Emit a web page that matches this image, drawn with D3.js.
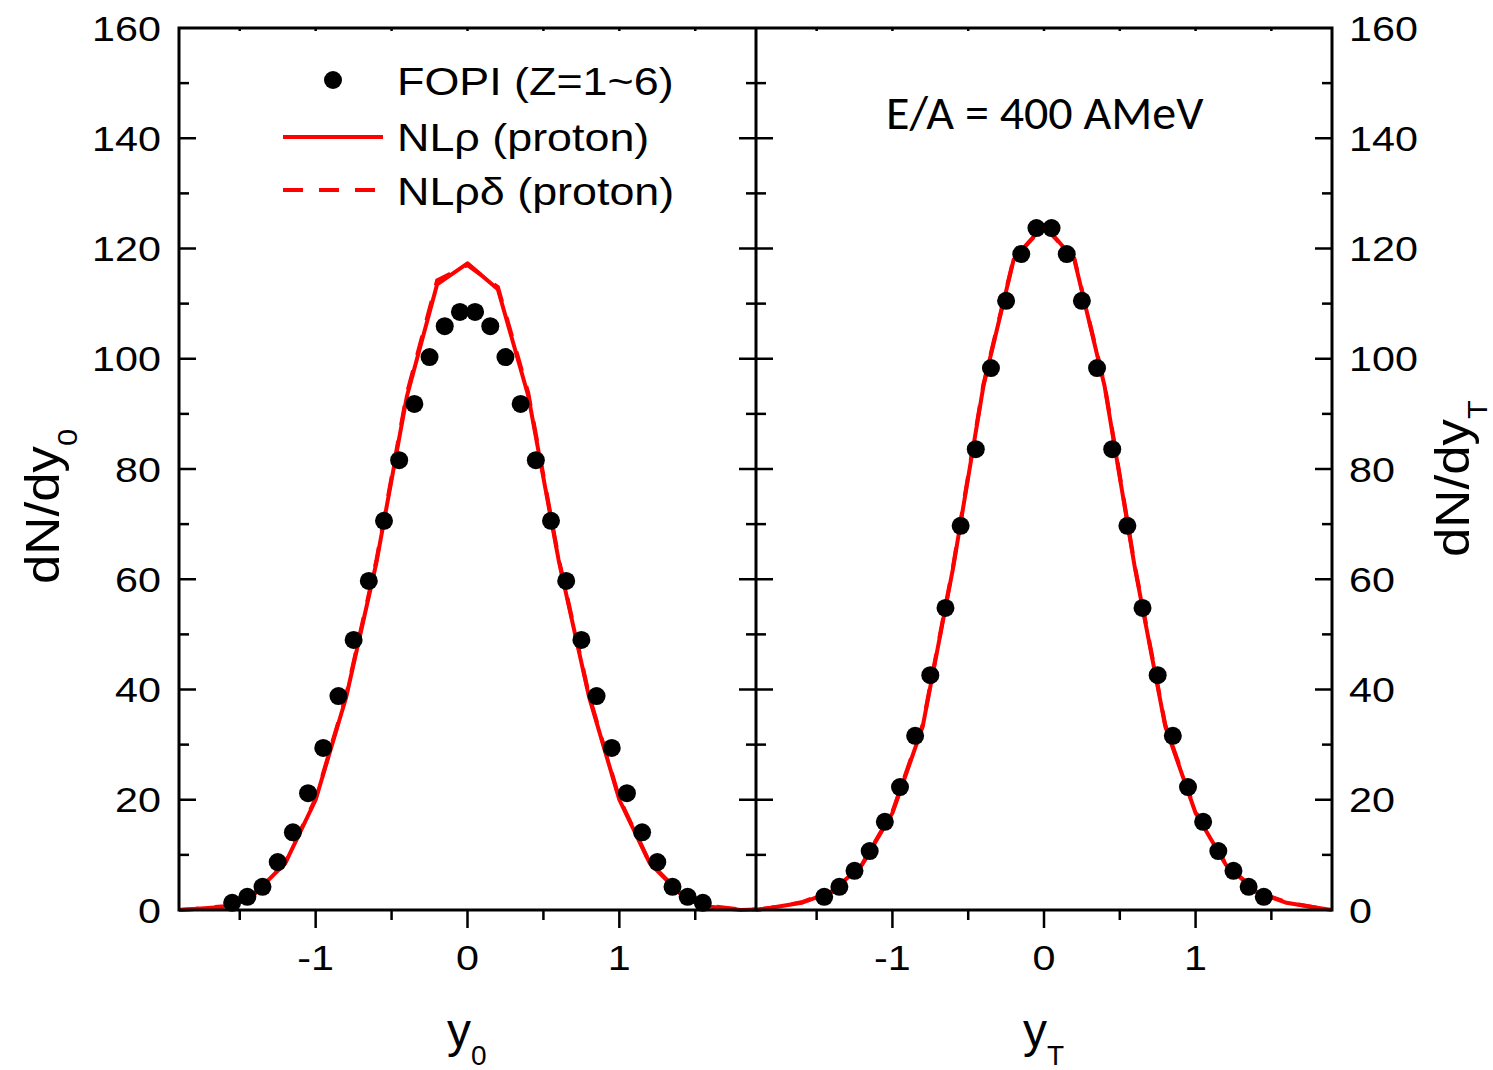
<!DOCTYPE html>
<html>
<head>
<meta charset="utf-8">
<script src="https://cdn.jsdelivr.net/npm/d3@7"></script>
<style>
  body { margin: 0; background: #fff; }
  svg { display: block; }
  .ar { font-family: "Liberation Sans", Arial, sans-serif; }
</style>
</head>
<body>
<div id="chart"></div>
<script>
// FOPI data points (symmetric around 0)
const dataX0 = [-1.55,-1.45,-1.35,-1.25,-1.15,-1.05,-0.95,-0.85,-0.75,-0.65,-0.55,-0.45,-0.35,-0.25,-0.15,-0.05,
                0.05,0.15,0.25,0.35,0.45,0.55,0.65,0.75,0.85,0.95,1.05,1.15,1.25,1.35,1.45,1.55];
const dataY0 = [1.3,2.4,4.2,8.7,14.1,21.2,29.4,38.8,49.0,59.7,70.6,81.6,91.8,100.3,105.9,108.5,
                108.5,105.9,100.3,91.8,81.6,70.6,59.7,49.0,38.8,29.4,21.2,14.1,8.7,4.2,2.4,1.3];

const dataXT = [-1.45,-1.35,-1.25,-1.15,-1.05,-0.95,-0.85,-0.75,-0.65,-0.55,-0.45,-0.35,-0.25,-0.15,-0.05,
                0.05,0.15,0.25,0.35,0.45,0.55,0.65,0.75,0.85,0.95,1.05,1.15,1.25,1.35,1.45];
const dataYT = [2.4,4.2,7.1,10.7,16.0,22.3,31.6,42.6,54.8,69.7,83.6,98.3,110.5,119.0,123.7,
                123.7,119.0,110.5,98.3,83.6,69.7,54.8,42.6,31.6,22.3,16.0,10.7,7.1,4.2,2.4];

// model curves
const modelX = [-1.9,-1.8,-1.6,-1.4,-1.2,-1.0,-0.8,-0.6,-0.4,-0.2,0,0.2,0.4,0.6,0.8,1.0,1.2,1.4,1.6,1.8,1.9];
const nlRho0   = [0,0.2,0.6,3.0,8.5,20.0,38.5,63.0,93.1,113.5,117.3,112.6,93.3,63.5,38.7,20.0,8.5,3.0,0.6,0,0.1];
const nlRhoD0  = [0,0.2,0.7,3.1,8.6,20.2,38.8,63.4,93.6,114.2,117.0,113.0,93.8,63.8,39.0,20.2,8.6,3.1,0.7,0.1,0.1];
const nlRhoT   = [0,0.4,1.3,3.3,8.2,17.6,33.3,62.0,95.0,118.0,124.3,118.0,95.0,62.0,33.3,17.6,8.2,3.3,1.3,0.4,0];
const nlRhoDT  = [0,0.4,1.4,3.4,8.3,17.8,33.6,62.3,95.3,118.2,124.0,118.2,95.3,62.3,33.6,17.8,8.3,3.4,1.4,0.4,0];

const yTicks = [0,20,40,60,80,100,120,140,160];
const xTicks = [-1,0,1];

const W = 1493, H = 1070;
const plotTop = 28, plotBottom = 910;
const leftL = 179, mid = 756, rightR = 1332;
const stretch = 1.18;

const svg = d3.select("#chart").append("svg").attr("width", W).attr("height", H);

const y = d3.scaleLinear().domain([0,160]).range([plotBottom, plotTop]);
const xL = d3.scaleLinear().domain([-1.9,1.9]).range([leftL, mid]);
const xR = d3.scaleLinear().domain([-1.9,1.9]).range([mid, rightR]);

function txt(x, yy, s, size, anchor, sx) {
    return svg.append("text")
        .attr("class", "ar")
        .attr("transform", `translate(${x},${yy}) scale(${sx || stretch},1)`)
        .attr("font-size", size)
        .attr("text-anchor", anchor || "start")
        .text(s);
}

// curves and points
function panel(x, px, py, m1, m2) {
    const line = d3.line().x((d,i)=>x(modelX[i])).y(d=>y(d));
    svg.append("path").datum(m1).attr("d", line)
        .attr("fill","none").attr("stroke","#ff0000").attr("stroke-width",4).attr("stroke-linejoin","round");
    svg.append("path").datum(m2).attr("d", line)
        .attr("fill","none").attr("stroke","#ff0000").attr("stroke-width",4).attr("stroke-dasharray","20,16");
    svg.append("g").selectAll("circle").data(py).enter().append("circle")
        .attr("cx",(d,i)=>x(px[i])).attr("cy",d=>y(d)).attr("r",9).attr("fill","#000");
}
panel(xL, dataX0, dataY0, nlRho0, nlRhoD0);
panel(xR, dataXT, dataYT, nlRhoT, nlRhoDT);

// frame
const axisW = 3;
svg.append("rect").attr("x",leftL).attr("y",plotTop).attr("width",rightR-leftL).attr("height",plotBottom-plotTop)
    .attr("fill","none").attr("stroke","#000").attr("stroke-width",axisW);
svg.append("line").attr("x1",mid).attr("x2",mid).attr("y1",plotTop).attr("y2",plotBottom)
    .attr("stroke","#000").attr("stroke-width",axisW);

// y ticks
const yMinor = d3.range(0,161,10);
const tk = svg.append("g").attr("stroke","#000").attr("stroke-width",2.5);
yMinor.forEach(v=>{
    const major = v % 20 === 0;
    const L = major ? 17 : 10;
    if (v===0 || v===160) return;
    tk.append("line").attr("x1",leftL).attr("x2",leftL+L).attr("y1",y(v)).attr("y2",y(v));
    tk.append("line").attr("x1",rightR).attr("x2",rightR-L).attr("y1",y(v)).attr("y2",y(v));
    tk.append("line").attr("x1",mid-L).attr("x2",mid+L).attr("y1",y(v)).attr("y2",y(v));
});

// x ticks (outward at bottom, tiny at top)
[xL, xR].forEach(x=>{
    d3.range(-1.5,1.51,0.5).forEach(v=>{
        const major = Math.abs(v % 1) < 1e-6;
        const L = major ? 18 : 10;
        tk.append("line").attr("x1",x(v)).attr("x2",x(v)).attr("y1",plotBottom).attr("y2",plotBottom+L);
        tk.append("line").attr("x1",x(v)).attr("x2",x(v)).attr("y1",plotTop).attr("y2",plotTop+3);
    });
    xTicks.forEach(v=>{
        txt(x(v), 970, v === -1 ? "-1" : String(v), 35, "middle");
    });
});

// y tick labels
yTicks.forEach(v=>{
    txt(161, y(v)+12.5, String(v), 35, "end");
    txt(1349, y(v)+12.5, String(v), 35, "start");
});

// axis titles
function title(x, yy, main, sub, rot, anchor) {
    const t = svg.append("text").attr("class","ar")
        .attr("transform", `translate(${x},${yy}) rotate(${rot}) scale(${rot ? 1.1 : 1},1)`)
        .attr("font-size", 48).attr("text-anchor", anchor);
    t.append("tspan").text(main);
    t.append("tspan").attr("font-size", 28).attr("dy", 18).text(sub);
    return t;
}
title(447, 1047, "y", "0", 0, "start");
title(1023, 1047, "y", "T", 0, "start");
title(59, 584, "dN/dy", "0", -90, "start");
title(1469, 557, "dN/dy", "T", -90, "start");

// legend
svg.append("circle").attr("cx",333).attr("cy",80).attr("r",9).attr("fill","#000");
txt(397, 95, "FOPI (Z=1~6)", 39, "start", 1.15);
svg.append("line").attr("x1",283).attr("x2",383).attr("y1",137).attr("y2",137)
    .attr("stroke","#ff0000").attr("stroke-width",4);
txt(397, 151, "NLρ (proton)", 39, "start", 1.15);
svg.append("line").attr("x1",283).attr("x2",383).attr("y1",190).attr("y2",190)
    .attr("stroke","#ff0000").attr("stroke-width",4).attr("stroke-dasharray","20,16");
txt(397, 205, "NLρδ (proton)", 39, "start", 1.15);

// annotation
svg.append("text").attr("x",886).attr("y",129)
    .attr("font-family","Carlito, Calibri, 'Open Sans', sans-serif")
    .attr("font-size",48).text("E/A = 400 AMeV");
</script>
</body>
</html>
